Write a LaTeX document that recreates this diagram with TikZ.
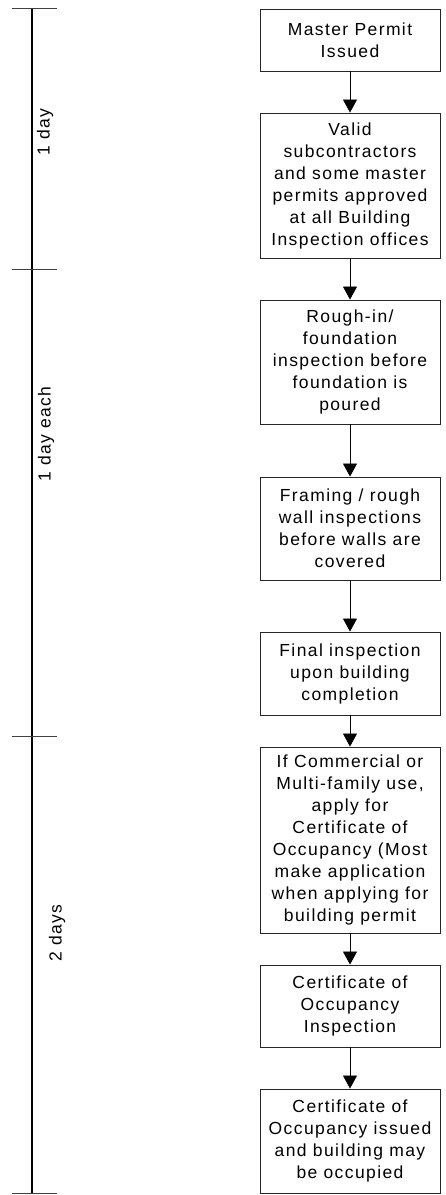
\documentclass[tikz,border=0pt]{standalone}
\usepackage{fontspec}
\setmainfont{Liberation Sans}[LetterSpace=8]
\usetikzlibrary{arrows.meta}
\begin{document}
\begin{tikzpicture}[x=1pt,y=-1pt,
  font=\fontsize{17.5}{22}\selectfont,
  stepbox/.style={draw=black!85,line width=0.9pt,align=center,inner sep=0pt,
    minimum width=180pt,anchor=center},
  flow/.style={draw=black,line width=0.8pt,-{Triangle[width=14pt,length=13pt]}},
  axis/.style={line width=2.2pt},
  tick/.style={draw=black!75,line width=0.8pt},
  span/.style={rotate=90,inner sep=0pt}]
\useasboundingbox (0,0) rectangle (445,1195);

% time axis
\coordinate (a0) at (32,8);
\coordinate (a3) at (32,1193);
\draw[axis] (a0) -- (a3);
\foreach \y [count=\i] in {8,269,736,1193}
  \draw[tick] (12,\y) -- (57,\y);
\node[span] (d1) at (45,132) {1 day};
\node[span] (d2) at (46,434) {1 day each};
\node[span] (d3) at (57,933) {2 days};

% process steps
\node[stepbox,minimum height=62pt]  (s1) at (350,40)    {Master Permit\\Issued};
\node[stepbox,minimum height=145pt] (s2) at (350,185.5) {Valid\\subcontractors\\and some master\\permits approved\\at all Building\\Inspection offices};
\node[stepbox,minimum height=124pt] (s3) at (350,362)   {Rough-in/\\foundation\\inspection before\\foundation is\\poured};
\node[stepbox,minimum height=103pt] (s4) at (350,528.5) {Framing / rough\\wall inspections\\before walls are\\covered};
\node[stepbox,minimum height=83pt]  (s5) at (350,673.5) {Final inspection\\upon building\\completion};
\node[stepbox,minimum height=186pt] (s6) at (350,840)   {If Commercial or\\Multi-family use,\\apply for\\Certificate of\\Occupancy (Most\\make application\\when applying for\\building permit};
\node[stepbox,minimum height=82pt]  (s7) at (350,1006)  {Certificate of\\Occupancy\\Inspection};
\node[stepbox,minimum height=104pt] (s8) at (350,1141)  {Certificate of\\Occupancy issued\\and building may\\be occupied};

\foreach \a/\b in {s1/s2,s2/s3,s3/s4,s4/s5,s5/s6,s6/s7,s7/s8}
  \draw[flow] (\a) -- (\b);
\end{tikzpicture}
\end{document}
